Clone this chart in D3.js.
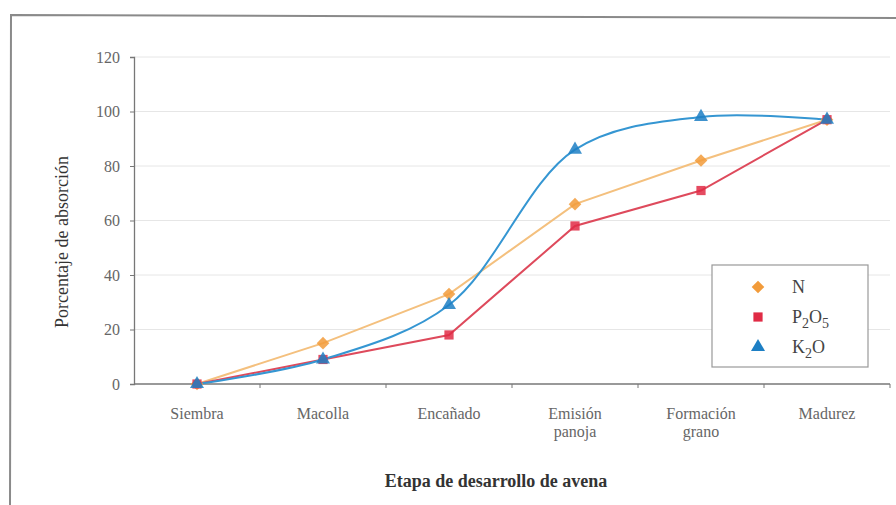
<!DOCTYPE html>
<html>
<head>
<meta charset="utf-8">
<script src="https://cdn.jsdelivr.net/npm/d3@7/dist/d3.min.js"></script>
<style>
  html, body { margin: 0; padding: 0; background: #fff; }
  svg { display: block; }
  text { font-family: "Liberation Serif", "DejaVu Serif", serif; }
</style>
</head>
<body>
<svg id="chart" width="896" height="505"></svg>
<script>
// Growth stages of oat and cumulative nutrient uptake (%)
const stages = ["Siembra", "Macolla", "Encañado", "Emisión|panoja", "Formación|grano", "Madurez"];
const yTicks = [0, 20, 40, 60, 80, 100, 120];
const nValues = [0, 15, 33, 66, 82, 97];
const p2o5Values = [0, 9, 18, 58, 71, 97];
const k2oValues = [0, 9, 29, 86, 98, 97];

const series = [
  { key: "N", values: nValues, line: "#f4c07e", fill: "#f29b3a", shape: d3.symbolSquare, rot: 45, size: 80, curve: d3.curveLinear },
  { key: "P2O5", values: p2o5Values, line: "#de4a5c", fill: "#e02b45", shape: d3.symbolSquare, rot: 0, size: 85, curve: d3.curveLinear },
  { key: "K2O", values: k2oValues, line: "#3596d2", fill: "#1d7fc4", shape: d3.symbolTriangle, rot: 0, size: 85, curve: d3.curveCatmullRom }
];

const svg = d3.select("#chart");
const plot = { left: 134, right: 890, top: 57, bottom: 384 };

// outer frame
svg.append("path")
  .attr("d", "M10,505 L11,15 L900,18")
  .attr("fill", "none").attr("stroke", "#8a8a8a").attr("stroke-width", 2);

const x = d3.scaleBand().domain(stages).range([plot.left, plot.right]);
const y = d3.scaleLinear().domain([0, 120]).range([plot.bottom, plot.top]);

// gridlines
svg.append("g").selectAll("line").data(yTicks.filter(t => t > 0)).join("line")
  .attr("x1", plot.left).attr("x2", plot.right)
  .attr("y1", d => y(d)).attr("y2", d => y(d))
  .attr("stroke", "#e6e6e6").attr("stroke-width", 1);

// y axis
const yAxis = svg.append("g").attr("transform", `translate(${plot.left},0)`)
  .call(d3.axisLeft(y).tickValues(yTicks).tickSize(4).tickPadding(10));
yAxis.select(".domain").attr("stroke", "#777").attr("stroke-width", 1.3);
yAxis.selectAll(".tick line").attr("stroke", "#777");
yAxis.selectAll(".tick text").attr("fill", "#666").attr("font-size", 16)
  .style("font-family", "'Liberation Serif', serif");

// x axis with ticks at category boundaries
const xAxisG = svg.append("g").attr("transform", `translate(0,${plot.bottom})`);
xAxisG.append("line").attr("x1", plot.left).attr("x2", plot.right)
  .attr("stroke", "#777").attr("stroke-width", 1.3);
xAxisG.selectAll("line.tk").data(stages).join("line").attr("class", "tk")
  .attr("x1", d => x(d) + x.bandwidth()).attr("x2", d => x(d) + x.bandwidth())
  .attr("y1", 0).attr("y2", 4).attr("stroke", "#777");
const xl = xAxisG.selectAll("text.lbl").data(stages).join("text").attr("class", "lbl")
  .attr("x", d => x(d) + x.bandwidth() / 2)
  .attr("y", 35)
  .attr("text-anchor", "middle").attr("fill", "#666").attr("font-size", 16);
xl.each(function(d) {
  const parts = d.split("|");
  d3.select(this).selectAll("tspan").data(parts).join("tspan")
    .attr("x", x(d) + x.bandwidth() / 2)
    .attr("dy", (p, i) => i === 0 ? 0 : 18)
    .text(p => p);
});

// axis titles
svg.append("text")
  .attr("transform", "translate(68,242) rotate(-90)")
  .attr("text-anchor", "middle").attr("font-size", 18).attr("fill", "#333")
  .text("Porcentaje de absorción");
svg.append("text")
  .attr("x", 496).attr("y", 487).attr("text-anchor", "middle")
  .attr("font-size", 18).attr("font-weight", "bold").attr("fill", "#333")
  .text("Etapa de desarrollo de avena");

const cx = i => x(stages[i]) + x.bandwidth() / 2;

// lines
series.forEach(s => {
  const line = d3.line().x((d, i) => cx(i)).y(d => y(d)).curve(s.curve);
  svg.append("path").datum(s.values)
    .attr("d", line).attr("fill", "none")
    .attr("stroke", s.line).attr("stroke-width", 2);
});

// markers
series.forEach(s => {
  svg.append("g").selectAll("path").data(s.values).join("path")
    .attr("transform", (d, i) => `translate(${cx(i)},${y(d)}) rotate(${s.rot})`)
    .attr("d", d3.symbol().type(s.shape).size(s.size)())
    .attr("fill", s.fill).attr("fill-opacity", 0.85);
});

// legend
const lg = svg.append("g").attr("transform", "translate(712,265)");
lg.append("rect").attr("width", 156).attr("height", 102)
  .attr("fill", "#fff").attr("stroke", "#999").attr("stroke-width", 1.2);
const rows = [
  { s: series[0], label: [["N", false]] },
  { s: series[1], label: [["P", false], ["2", true], ["O", false], ["5", true]] },
  { s: series[2], label: [["K", false], ["2", true], ["O", false]] }
];
rows.forEach((r, i) => {
  const yy = 22 + i * 30;
  lg.append("path").attr("transform", `translate(46,${yy}) rotate(${r.s.rot})`)
    .attr("d", d3.symbol().type(r.s.shape).size(r.s.size)())
    .attr("fill", r.s.fill);
  const t = lg.append("text").attr("x", 80).attr("y", yy + 6)
    .attr("font-size", 18).attr("fill", "#444");
  r.label.forEach(([txt, sub]) => {
    t.append("tspan").attr("font-size", sub ? 14 : 18)
      .attr("dy", sub ? 5 : (txt === "O" ? -5 : 0)).text(txt);
  });
});
</script>
</body>
</html>
